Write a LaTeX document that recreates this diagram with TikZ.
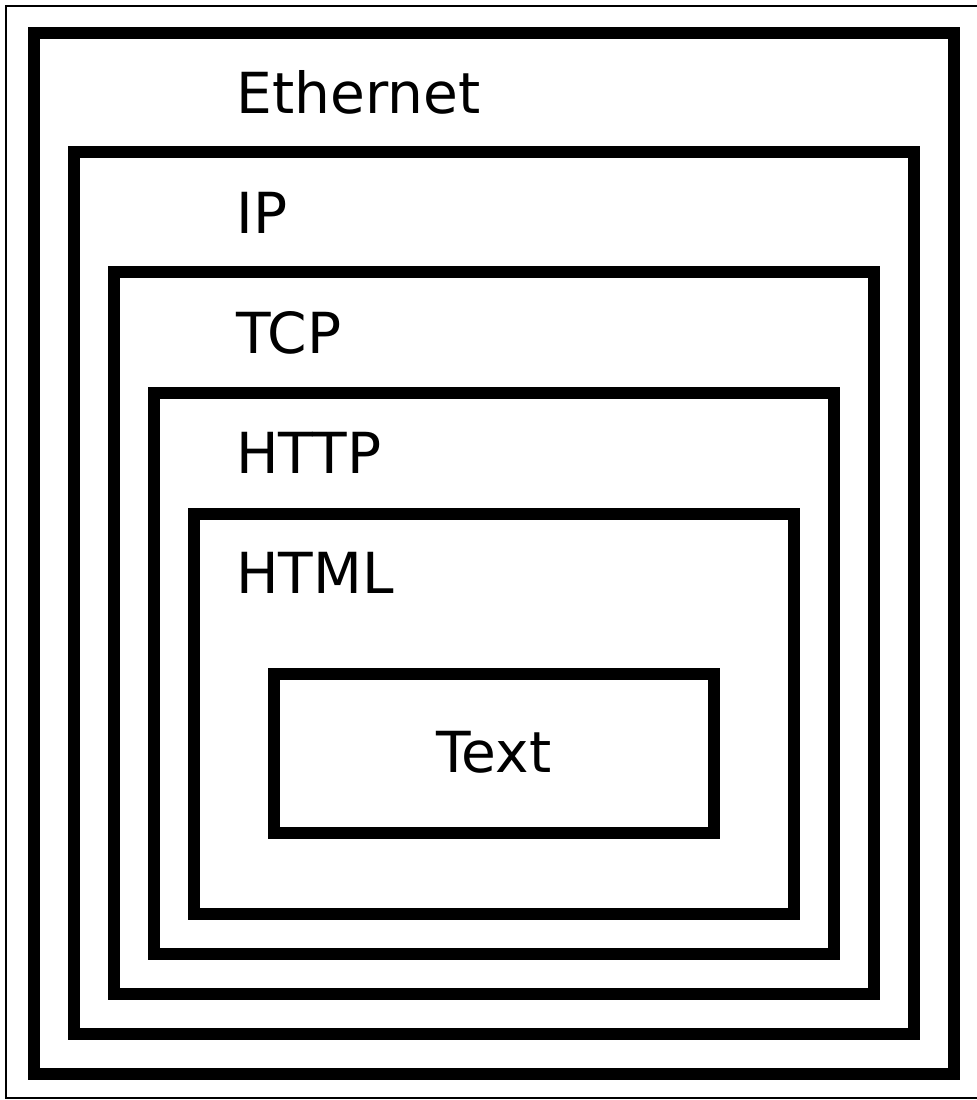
\documentclass[tikz,border=0pt]{standalone}
\usepackage{fontspec}
\setmainfont{DejaVu Sans}
\usepackage{tikz}
\usetikzlibrary{positioning}

\tikzset{
	layer/.style={line width=5.8pt, line join=miter},
	lbl/.style={anchor=base west, inner sep=0pt, font=\fontsize{28.3pt}{34pt}\selectfont}
}

\begin{document}
\begin{tikzpicture}[x=0.5pt,y=-0.5pt]
		\useasboundingbox (0,0) rectangle (977,1100);
		\fill[white] (0,0) rectangle (977,1100);
		\draw[line width=1pt] (6,6) rectangle (980,1098);
		
		% Schichten
		\draw[layer] (34,33) rectangle (954,1074);
		\draw[layer] (74,152) rectangle (914,1034);
		\draw[layer] (114,272) rectangle (874,994);
		\draw[layer] (154,393) rectangle (834,954);
		\draw[layer] (194,514) rectangle (794,914);
		\draw[layer] (274,674) rectangle (714,833);
		
		% Beschriftungen
		\node[lbl] (eth) at (236,113) {Ethernet};
		\node[lbl] (ip) at (236,233) {IP};
		\node[lbl] (tcp) at (236,353) {TCP};
		\node[lbl] (http) at (236,473) {HTTP};
		\node[lbl] (html) at (236,593) {HTML};
		\node[lbl, anchor=base] (txt) at (494,772) {Text};
	\end{tikzpicture}
\end{document}
